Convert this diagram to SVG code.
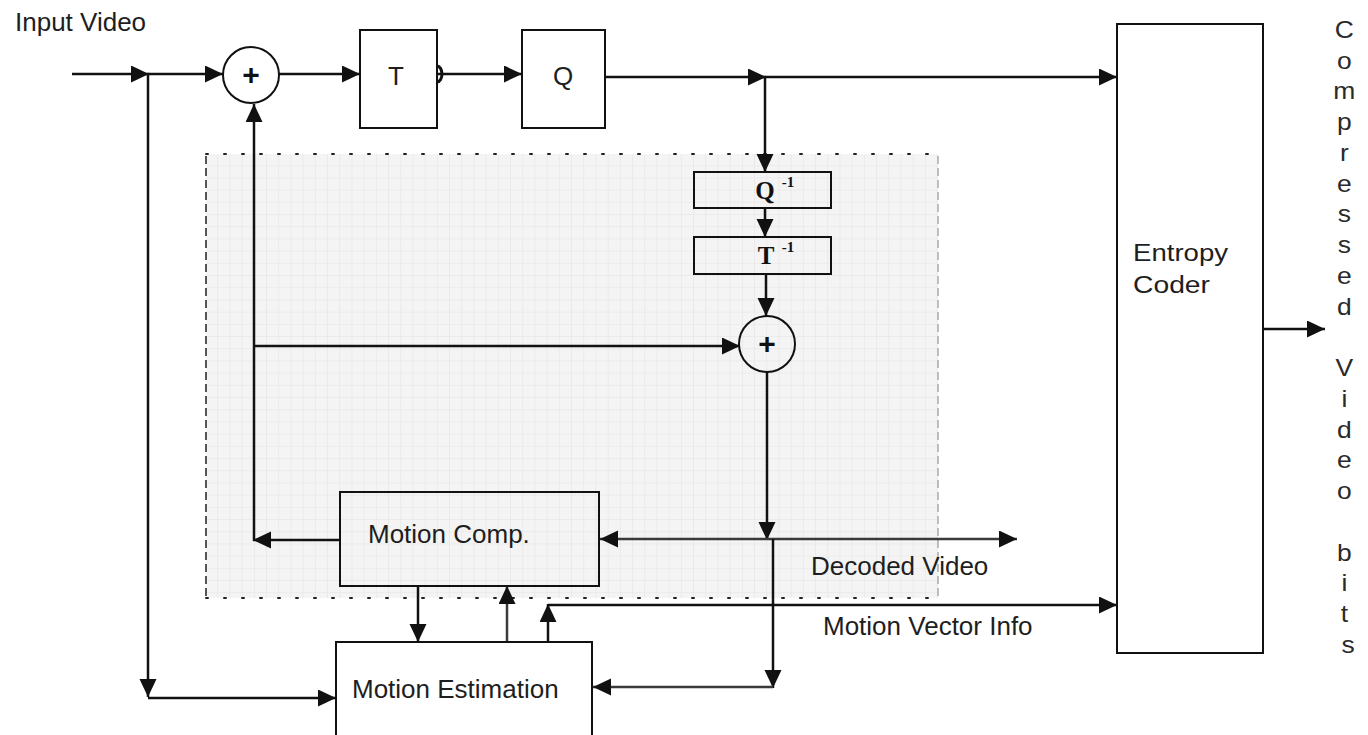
<svg xmlns="http://www.w3.org/2000/svg" width="1368" height="735" viewBox="0 0 1368 735">
  <style>
    .lbl { font-family: "Liberation Sans", Arial, sans-serif; font-size: 26px; fill: #1e1e1e; }
    .ec { font-family: "Liberation Sans", Arial, sans-serif; font-size: 23px; fill: #1e1e1e; }
    .vert { font-family: "Liberation Sans", Arial, sans-serif; font-size: 23px; fill: #2a2a2a; }
    .blk { fill: #ffffff; stroke: #111; stroke-width: 2; }
    .open { fill: none; stroke: #111; stroke-width: 2; }
    .wire { fill: none; stroke: #111; stroke-width: 2.5; }
    .wire-g { fill: none; stroke: #3a3a3a; stroke-width: 2.5; }
    .inv { font-family: "Liberation Serif", "Times New Roman", serif; font-weight: bold; fill: #111; }
  </style>
  <defs>
    <marker id="arrow" markerUnits="userSpaceOnUse" markerWidth="19" markerHeight="18" refX="18" refY="8.5" orient="auto">
      <path d="M0,0 L18,8.5 L0,17 z" fill="#111"/>
    </marker>
    <pattern id="grid" width="12.2" height="12.2" patternUnits="userSpaceOnUse" x="206" y="154">
      <rect width="12.2" height="12.2" fill="#f4f4f4"/>
      <path d="M12.2,0 V12.2 M0,12.2 H12.2" stroke="#e2e2e2" stroke-width="1" fill="none"/>
    </pattern>
  </defs>

  <rect width="1368" height="735" fill="#ffffff"/>

  <!-- decoder loop area -->
  <g id="decoder-region">
    <rect x="206" y="154" width="732" height="444" fill="url(#grid)"/>
    <line x1="206" y1="154" x2="938" y2="154" stroke="#222" stroke-width="2" stroke-dasharray="2 16" stroke-linecap="round"/>
    <line x1="206" y1="598" x2="938" y2="598" stroke="#222" stroke-width="2" stroke-dasharray="2 16" stroke-linecap="round"/>
    <line x1="206" y1="156" x2="206" y2="596" stroke="#555" stroke-width="2" stroke-dasharray="8 4"/>
    <line x1="938" y1="156" x2="938" y2="596" stroke="#aaa" stroke-width="1.5" stroke-dasharray="8 4"/>
  </g>

  <text class="lbl" x="15" y="31">Input Video</text>

  <!-- connectors -->
  <g id="connectors">
    <line class="wire" x1="72" y1="74" x2="149" y2="74" marker-end="url(#arrow)"/>
    <line class="wire" x1="148" y1="74" x2="223" y2="74" marker-end="url(#arrow)"/>
    <line class="wire" x1="148" y1="74" x2="148" y2="697" marker-end="url(#arrow)"/>
    <line class="wire" x1="148" y1="698" x2="336" y2="698" marker-end="url(#arrow)"/>
    <line class="wire" x1="279" y1="74" x2="360" y2="74" marker-end="url(#arrow)"/>
    <line class="wire" x1="437" y1="74" x2="522" y2="74" marker-end="url(#arrow)"/>
    <path d="M437,66 A5,8 0 0 1 437,82" fill="none" stroke="#111" stroke-width="3"/>
    <line class="wire" x1="605" y1="77" x2="766" y2="77" marker-end="url(#arrow)"/>
    <line class="wire" x1="765" y1="77" x2="1117" y2="77" marker-end="url(#arrow)"/>
    <line class="wire" x1="765" y1="77" x2="765" y2="172" marker-end="url(#arrow)"/>
    <line class="wire" x1="765" y1="208" x2="765" y2="237" marker-end="url(#arrow)"/>
    <line class="wire" x1="766" y1="274" x2="766" y2="316" marker-end="url(#arrow)"/>
    <line class="wire" x1="255" y1="346" x2="740" y2="346" marker-end="url(#arrow)"/>
    <line class="wire" x1="254" y1="541" x2="254" y2="104" marker-end="url(#arrow)"/>
    <line class="wire" x1="340" y1="540" x2="253" y2="540" marker-end="url(#arrow)"/>
    <line class="wire" x1="767" y1="372" x2="767" y2="540" marker-end="url(#arrow)"/>
    <line class="wire-g" x1="773" y1="539" x2="600" y2="539" marker-end="url(#arrow)"/>
    <line class="wire-g" x1="773" y1="539" x2="1017" y2="539" marker-end="url(#arrow)"/>
    <line class="wire" x1="773" y1="539" x2="773" y2="688" marker-end="url(#arrow)"/>
    <line class="wire-g" x1="773" y1="687" x2="593" y2="687" marker-end="url(#arrow)"/>
    <line class="wire" x1="418" y1="586" x2="418" y2="642" marker-end="url(#arrow)"/>
    <line class="wire-g" x1="507" y1="643" x2="507" y2="586" marker-end="url(#arrow)"/>
    <line class="wire" x1="548" y1="643" x2="548" y2="604" marker-end="url(#arrow)"/>
    <line class="wire" x1="548" y1="605" x2="1117" y2="605" marker-end="url(#arrow)"/>
    <line class="wire" x1="1263" y1="329" x2="1325" y2="329" marker-end="url(#arrow)"/>
  </g>

  <!-- forward path -->
  <g id="sum-in">
    <circle class="blk" cx="251" cy="75" r="28"/>
    <text x="251" y="85" text-anchor="middle" font-family="Liberation Sans, Arial, sans-serif" font-size="30" font-weight="bold" fill="#111">+</text>
  </g>
  <g id="transform">
    <rect class="blk" x="360" y="30" width="77" height="98"/>
    <text class="lbl" x="396" y="85" text-anchor="middle">T</text>
  </g>
  <g id="quantizer">
    <rect class="blk" x="522" y="30" width="83" height="98"/>
    <text class="lbl" x="563" y="85" text-anchor="middle">Q</text>
  </g>

  <!-- reconstruction path -->
  <g id="inv-quantizer">
    <rect class="open" x="694" y="172" width="137" height="36"/>
    <text class="inv" x="765" y="199" text-anchor="middle" font-size="25">Q</text>
    <text class="inv" x="788" y="187" text-anchor="middle" font-size="15">-1</text>
  </g>
  <g id="inv-transform">
    <rect class="open" x="694" y="237" width="137" height="37"/>
    <text class="inv" x="766" y="264" text-anchor="middle" font-size="25">T</text>
    <text class="inv" x="788" y="252" text-anchor="middle" font-size="15">-1</text>
  </g>
  <g id="sum-recon">
    <circle class="open" cx="767" cy="344" r="28"/>
    <text x="767" y="354" text-anchor="middle" font-family="Liberation Sans, Arial, sans-serif" font-size="30" font-weight="bold" fill="#111">+</text>
  </g>
  <g id="motion-comp">
    <rect class="open" x="340" y="492" width="259" height="94"/>
    <text class="lbl" x="368" y="543">Motion Comp.</text>
  </g>
  <g id="motion-est">
    <rect class="blk" x="336" y="642" width="256" height="110"/>
    <text class="lbl" x="352" y="698">Motion Estimation</text>
  </g>

  <text class="lbl" x="811" y="575">Decoded Video</text>
  <text class="lbl" x="823" y="635">Motion Vector Info</text>

  <!-- entropy coding -->
  <g id="entropy-coder">
    <rect class="blk" x="1117" y="24" width="146" height="629"/>
    <text class="ec" x="1133" y="261" textLength="95" lengthAdjust="spacingAndGlyphs">Entropy</text>
    <text class="ec" x="1133" y="293" textLength="77" lengthAdjust="spacingAndGlyphs">Coder</text>
  </g>

  <g id="output-label" transform="translate(1348 0) scale(1.15 1)">
    <text class="vert" text-anchor="middle">
      <tspan x="0" y="38">C</tspan>
      <tspan x="0" y="68.75">o</tspan>
      <tspan x="0" y="99.5">m</tspan>
      <tspan x="0" y="130.25">p</tspan>
      <tspan x="0" y="161">r</tspan>
      <tspan x="0" y="191.75">e</tspan>
      <tspan x="0" y="222.5">s</tspan>
      <tspan x="0" y="253.25">s</tspan>
      <tspan x="0" y="284">e</tspan>
      <tspan x="0" y="314.75">d</tspan>
      <tspan x="0" y="376.25">V</tspan>
      <tspan x="0" y="407">i</tspan>
      <tspan x="0" y="437.75">d</tspan>
      <tspan x="0" y="468.5">e</tspan>
      <tspan x="0" y="499.25">o</tspan>
      <tspan x="0" y="560.75">b</tspan>
      <tspan x="0" y="591.5">i</tspan>
      <tspan x="0" y="622.25">t</tspan>
      <tspan x="0" y="653">s</tspan>
    </text>
  </g>
</svg>
